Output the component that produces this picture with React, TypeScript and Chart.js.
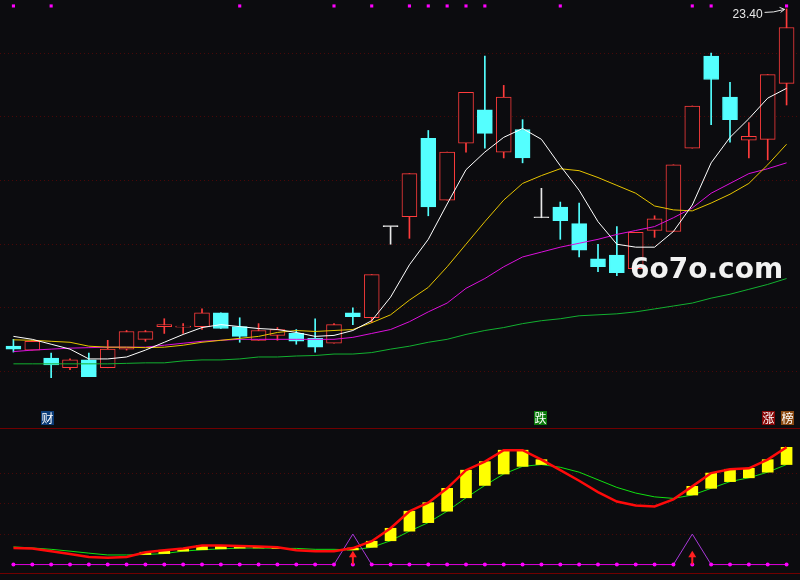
import React, { useEffect, useRef } from 'react';
import { Chart, registerables } from 'chart.js';

Chart.register(...registerables);

// ---------- data ----------
const labels = ['D01','D02','D03','D04','D05','D06','D07','D08','D09','D10','D11','D12','D13','D14','D15','D16','D17','D18','D19','D20','D21','D22','D23','D24','D25','D26','D27','D28','D29','D30','D31','D32','D33','D34','D35','D36','D37','D38','D39','D40','D41','D42'];

const openP = [16.52,16.44,16.28,16.08,16.24,16.08,16.46,16.66,16.92,16.91,16.92,17.20,16.92,16.64,16.74,16.78,16.68,16.58,17.20,17.10,18.96,19.16,20.76,19.50,20.66,21.34,20.48,20.94,19.14,19.36,19.02,18.30,18.38,18.10,18.88,18.86,20.56,22.44,21.60,20.72,20.74,21.88];
const highP = [16.66,16.64,16.38,16.26,16.38,16.64,16.84,16.84,17.08,16.98,17.28,17.20,17.10,16.98,16.90,16.86,17.08,16.98,17.30,17.98,18.96,20.04,20.92,20.48,21.70,22.44,21.84,21.14,19.74,19.46,19.44,18.60,18.96,18.84,19.18,20.22,21.42,22.50,21.90,21.08,22.06,23.40];
const lowP = [16.40,16.44,15.88,16.04,15.90,16.08,16.44,16.62,16.78,16.78,16.86,16.88,16.60,16.64,16.64,16.56,16.40,16.58,16.96,17.00,18.60,18.72,19.18,19.50,20.48,20.56,20.36,20.26,19.14,18.70,18.34,18.04,17.96,18.06,18.74,18.86,20.56,21.04,20.68,20.36,20.32,21.44];
const closeP = [16.46,16.62,16.14,16.24,15.90,16.46,16.82,16.82,16.96,16.92,17.20,16.88,16.72,16.84,16.86,16.62,16.50,16.96,17.12,17.98,18.96,20.04,19.36,20.48,21.70,20.86,21.60,20.36,19.14,19.08,18.48,18.14,18.02,18.84,19.12,20.22,21.42,21.96,21.14,20.80,22.06,23.02];

const ma5 = [16.72,16.66,16.56,16.46,16.26,16.26,16.30,16.44,16.60,16.76,16.90,16.96,16.92,16.88,16.86,16.80,16.72,16.74,16.84,17.04,17.52,18.18,18.70,19.42,20.12,20.48,20.78,20.96,20.74,20.20,19.70,19.06,18.60,18.54,18.54,18.86,19.40,20.26,20.78,21.16,21.58,21.78];
const ma10 = [16.65,16.64,16.62,16.60,16.52,16.50,16.50,16.49,16.50,16.54,16.60,16.64,16.68,16.72,16.80,16.84,16.82,16.84,16.86,17.00,17.16,17.46,17.72,18.14,18.60,19.06,19.50,19.84,20.00,20.14,20.10,19.96,19.80,19.64,19.38,19.30,19.28,19.44,19.62,19.84,20.22,20.64];
const ma20 = [16.41,16.44,16.46,16.48,16.49,16.50,16.50,16.50,16.54,16.58,16.62,16.64,16.66,16.66,16.66,16.66,16.66,16.66,16.70,16.78,16.86,17.02,17.22,17.40,17.70,17.90,18.14,18.34,18.44,18.54,18.62,18.70,18.80,18.88,18.96,19.14,19.34,19.64,19.84,20.04,20.14,20.26];
const ma60 = [16.16,16.16,16.16,16.16,16.16,16.16,16.17,16.18,16.18,16.22,16.24,16.24,16.26,16.30,16.30,16.32,16.33,16.36,16.36,16.39,16.46,16.52,16.60,16.66,16.76,16.84,16.90,16.98,17.04,17.08,17.14,17.16,17.18,17.22,17.28,17.34,17.40,17.50,17.58,17.68,17.78,17.90];

const topMarks = [23.46,null,23.46,null,null,null,null,null,null,null,null,null,23.46,null,null,null,null,23.46,null,23.46,null,23.46,23.46,23.46,23.46,23.46,null,null,null,23.46,null,null,null,null,null,null,23.46,23.46,null,null,null,23.46];

const mainGrid = [22.5, 21.2, 19.9, 18.6, 17.3, 16.0];
const highLabel = '23.40';

const oscRed = [10.9,10.6,8.8,6.9,5.0,4.4,5.0,8.1,9.4,10.6,12.5,12.5,12.2,11.9,11.3,9.4,8.8,8.8,10.8,15.3,23.8,35.0,40.6,50.0,61.9,67.5,75.0,75.0,68.8,61.9,55.0,47.5,41.3,38.8,38.1,42.8,51.3,60.0,62.5,63.1,68.8,76.9];
const oscGreen = [11.6,10.9,10.0,8.8,7.5,6.3,6.3,6.6,7.2,8.8,9.7,10.3,10.8,10.9,10.6,10.6,10.0,10.0,9.6,11.3,15.6,21.9,27.5,35.0,43.8,51.9,59.4,64.4,65.6,63.8,60.6,55.6,50.6,46.9,44.4,43.4,45.6,50.0,54.4,56.9,60.6,65.6];
const signalLine = [0,0,0,0,0,0,0,0,0,0,0,0,0,0,0,0,0,0,20,0,0,0,0,0,0,0,0,0,0,0,0,0,0,0,0,0,20,0,0,0,0,0];
const baseDots = [0,0,0,0,0,0,0,0,0,0,0,0,0,0,0,0,0,0,0,0,0,0,0,0,0,0,0,0,0,0,0,0,0,0,0,0,0,0,0,0,0,0];
const buyArrow = [null,null,null,null,null,null,null,null,null,null,null,null,null,null,null,null,null,null,9.1,null,null,null,null,null,null,null,null,null,null,null,null,null,null,null,null,null,9.1,null,null,null,null,null];
const subGrid = [20, 40, 60];
const subFrame = [89.4, -5.6];

// ---------- styles ----------
const BG = '#0c0c0f';
const RED = '#ff3c3c';
const CYAN = '#54ffff';
const WHITE = '#e8e8e8';

const candleColor = (i: number) =>
  closeP[i] > openP[i] ? RED : closeP[i] < openP[i] ? CYAN : WHITE;

const bgPlugin = {
  id: 'bgfill',
  beforeDraw(chart: any) {
    const { ctx, width, height } = chart;
    ctx.save();
    ctx.fillStyle = BG;
    ctx.fillRect(0, 0, width, height);
    ctx.restore();
  },
};

const hLines = (chart: any, values: number[], color: string, dash: number[]) => {
  const { ctx, width } = chart;
  const ys = chart.scales.y;
  ctx.save();
  ctx.strokeStyle = color;
  ctx.lineWidth = 1;
  ctx.setLineDash(dash);
  values.forEach((v) => {
    const y = Math.floor(ys.getPixelForValue(v)) + 0.5;
    ctx.beginPath();
    ctx.moveTo(0, y);
    ctx.lineTo(width, y);
    ctx.stroke();
  });
  ctx.restore();
};

const mainGridPlugin = {
  id: 'mainGrid',
  beforeDatasetsDraw(chart: any) {
    hLines(chart, mainGrid, '#4a0808', [1, 3]);
  },
  afterDatasetsDraw(chart: any) {
    const { ctx } = chart;
    const xs = chart.scales.x;
    const ys = chart.scales.y;
    let idx = 0;
    highP.forEach((h, i) => { if (h > highP[idx]) idx = i; });
    const x = xs.getPixelForValue(idx);
    const y = ys.getPixelForValue(highP[idx]);
    ctx.save();
    ctx.fillStyle = WHITE;
    ctx.strokeStyle = WHITE;
    ctx.font = '12px "Liberation Sans", Arial, sans-serif';
    ctx.textAlign = 'right';
    ctx.textBaseline = 'alphabetic';
    ctx.fillText(highLabel, x - 24, y + 9);
    ctx.lineWidth = 1;
    ctx.beginPath();
    ctx.moveTo(x - 22, y + 3.5);
    ctx.lineTo(x - 13, y + 3);
    ctx.lineTo(x - 2, y + 0.5);
    ctx.moveTo(x - 2, y + 0.5);
    ctx.lineTo(x - 7, y - 1.5);
    ctx.moveTo(x - 2, y + 0.5);
    ctx.lineTo(x - 6, y + 3.5);
    ctx.stroke();
    ctx.restore();
  },
};

const subGridPlugin = {
  id: 'subGrid',
  beforeDatasetsDraw(chart: any) {
    hLines(chart, subGrid, '#4a0808', [1, 3]);
    hLines(chart, subFrame, '#700000', []);
  },
  afterDatasetsDraw(chart: any) {
    const { ctx } = chart;
    const xs = chart.scales.x;
    const ys = chart.scales.y;
    ctx.save();
    ctx.fillStyle = '#ff2020';
    buyArrow.forEach((v, i) => {
      if (v == null) return;
      const x = xs.getPixelForValue(i);
      const y0 = ys.getPixelForValue(0);
      const yt = ys.getPixelForValue(v);
      ctx.fillRect(x - 1, yt + 5, 2, y0 - yt - 5);
      ctx.beginPath();
      ctx.moveTo(x, yt);
      ctx.lineTo(x + 4, yt + 6.5);
      ctx.lineTo(x - 4, yt + 6.5);
      ctx.closePath();
      ctx.fill();
    });
    ctx.restore();
  },
};

export default function App() {
  const topRef = useRef<HTMLCanvasElement | null>(null);
  const subRef = useRef<HTMLCanvasElement | null>(null);

  useEffect(() => {
    document.body.style.margin = '0';
    document.body.style.background = BG;

    const colors = labels.map((_, i) => candleColor(i));
    const bodyFill = labels.map((_, i) => (closeP[i] > openP[i] ? BG : candleColor(i)));

    const top = new Chart(topRef.current as HTMLCanvasElement, {
      type: 'bar',
      data: {
        labels,
        datasets: [
          { type: 'line', label: 'MA5', data: ma5, borderColor: '#ffffff', borderWidth: 1, pointRadius: 0, tension: 0, order: 0 } as any,
          { type: 'line', label: 'MA10', data: ma10, borderColor: '#e6c400', borderWidth: 1, pointRadius: 0, tension: 0, order: 0 } as any,
          { type: 'line', label: 'MA20', data: ma20, borderColor: '#dc10dc', borderWidth: 1, pointRadius: 0, tension: 0, order: 0 } as any,
          { type: 'line', label: 'MA60', data: ma60, borderColor: '#12b030', borderWidth: 1, pointRadius: 0, tension: 0, order: 0 } as any,
          { type: 'line', label: 'mark', data: topMarks, showLine: false, pointStyle: 'rect', pointRadius: 2.2, pointBackgroundColor: '#ff00ff', pointBorderWidth: 0, order: 0 } as any,
          {
            type: 'bar', label: 'body',
            data: openP.map((o, i) => [o, closeP[i]]),
            backgroundColor: bodyFill, borderColor: colors, borderWidth: 1, borderSkipped: false,
            barThickness: 15, minBarLength: 1, grouped: false, order: 1,
          } as any,
          {
            type: 'bar', label: 'wick',
            data: lowP.map((l, i) => [l, highP[i]]),
            backgroundColor: colors, borderWidth: 0, barThickness: 1, grouped: false, order: 2,
          } as any,
        ],
      },
      options: {
        responsive: false,
        animation: false,
        events: [],
        layout: { padding: { left: 1, right: 1, top: 0, bottom: 0 } },
        plugins: { legend: { display: false }, tooltip: { enabled: false } },
        scales: {
          x: { display: false, offset: true },
          y: { display: false, min: 15.3, max: 23.5 },
        },
      },
      plugins: [bgPlugin, mainGridPlugin],
    });

    const yellow = oscRed.map((r, i) => (r > oscGreen[i] ? [oscGreen[i], r] : null));

    const sub = new Chart(subRef.current as HTMLCanvasElement, {
      type: 'bar',
      data: {
        labels,
        datasets: [
          { type: 'line', label: 'dots', data: baseDots, showLine: false, pointRadius: 2, pointBackgroundColor: '#ff00ff', pointBorderWidth: 0, order: 0 } as any,
          { type: 'line', label: 'fast', data: oscRed, borderColor: '#ff0a0a', borderWidth: 2.5, pointRadius: 0, tension: 0, order: 0 } as any,
          {
            type: 'line', label: 'signal', data: signalLine, borderColor: '#e000e0', borderWidth: 1, pointRadius: 0, tension: 0, order: 1,
            segment: { borderColor: (c: any) => (c.p0.parsed.y > 0 || c.p1.parsed.y > 0 ? '#a838d8' : '#e000e0') },
          } as any,
          { type: 'bar', label: 'diff', data: yellow, backgroundColor: '#ffff00', borderWidth: 0, barThickness: 11, grouped: false, order: 2 } as any,
          { type: 'line', label: 'slow', data: oscGreen, borderColor: '#10e010', borderWidth: 1, pointRadius: 0, tension: 0, order: 3 } as any,
        ],
      },
      options: {
        responsive: false,
        animation: false,
        events: [],
        layout: { padding: { left: 1, right: 1, top: 0, bottom: 0 } },
        plugins: { legend: { display: false }, tooltip: { enabled: false } },
        scales: {
          x: { display: false, offset: true },
          y: { display: false, min: -7.5, max: 98.75 },
        },
      },
      plugins: [bgPlugin, subGridPlugin],
    });

    return () => {
      top.destroy();
      sub.destroy();
    };
  }, []);

  const tag = (left: number, bg: string, text: string) => (
    <span
      style={{
        position: 'absolute', left, top: 411, width: 13, height: 14, background: bg, color: '#ffffff',
        font: '12px "Noto Sans CJK SC", sans-serif', lineHeight: '14px', textAlign: 'center',
      }}
    >
      {text}
    </span>
  );

  return (
    <div style={{ position: 'relative', width: 800, height: 580, background: BG, overflow: 'hidden' }}>
      <canvas ref={topRef} width={800} height={410} style={{ position: 'absolute', left: 0, top: 0 }} />
      <canvas ref={subRef} width={800} height={170} style={{ position: 'absolute', left: 0, top: 410 }} />
      {tag(41, '#0b3c78', '财')}
      {tag(534, '#0a7a0a', '跌')}
      {tag(762, '#860606', '涨')}
      {tag(781, '#8a4a12', '榜')}
      <span
        style={{
          position: 'absolute', left: 630, top: 255, color: '#f2f2f2',
          font: 'bold 28px "DejaVu Sans", sans-serif', lineHeight: '28px', whiteSpace: 'nowrap',
        }}
      >
        6o7o.com
      </span>
    </div>
  );
}
